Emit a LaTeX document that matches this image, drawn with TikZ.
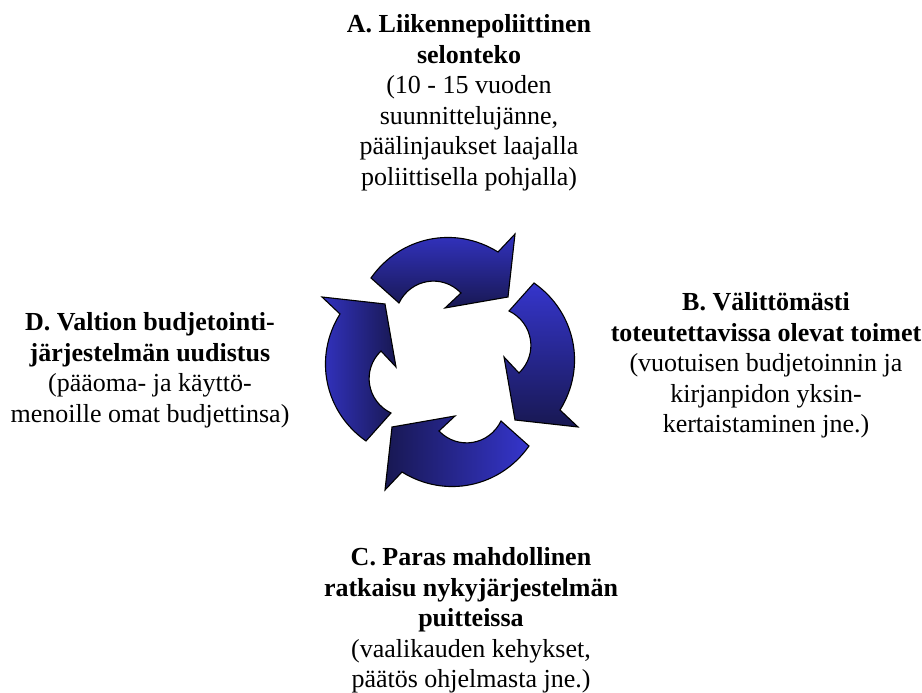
\documentclass[tikz,border=0pt]{standalone}
\usepackage{fontspec}
\setmainfont{LiberationSerif}[
  Extension=.ttf,
  UprightFont=*-Regular,
  BoldFont=*-Bold,
  ItalicFont=*-Italic,
  BoldItalicFont=*-BoldItalic]
\usetikzlibrary{calc}

\definecolor{arrowlight}{RGB}{53,53,204}
\definecolor{arrowdark}{RGB}{24,24,82}

\tikzset{
  cyclearrow/.style={draw=black, line width=1.1pt, line join=miter},
  phase/.style={inner sep=0pt, anchor=base, font=\fontsize{26}{30.5}\selectfont}
}

\newcommand{\phasetext}[1]{\begin{tabular}[t]{@{}c@{}}#1\end{tabular}}

\begin{document}
\begin{tikzpicture}[x=1pt,y=1pt]
  \useasboundingbox (0,0) rectangle (922,693);

  % four curved arrows turning clockwise round the centre
  \begin{scope}[shift={(450,331)}]
    % upper arrow
    \shade[cyclearrow, top color=arrowlight, bottom color=arrowdark]
      (-79,84) to[out=55,in=148] (48,110) -- (65,128) -- (58,65)
      -- (-5,54) -- (11,69) to[out=134,in=64,looseness=1.1] (-51,59) -- cycle;
    % right arrow
    \shade[cyclearrow, top color=arrowlight, bottom color=arrowdark]
      (84,79) to[out=-35,in=58] (110,-48) -- (128,-65) -- (65,-58)
      -- (54,5) -- (69,-11) to[out=44,in=-26,looseness=1.1] (59,51) -- cycle;
    % lower arrow
    \shade[cyclearrow, left color=arrowdark, right color=arrowlight]
      (79,-84) to[out=235,in=328] (-48,-110) -- (-65,-128) -- (-58,-65)
      -- (5,-54) -- (-11,-69) to[out=314,in=244,looseness=1.1] (51,-59) -- cycle;
    % left arrow
    \shade[cyclearrow, left color=arrowlight, right color=arrowdark]
      (-84,-79) to[out=145,in=238] (-110,48) -- (-128,65) -- (-65,58)
      -- (-54,-5) -- (-69,11) to[out=224,in=154,looseness=1.1] (-59,-51) -- cycle;
  \end{scope}

  % the four phases
  \node[phase] (A) at (469,660) {\phasetext{%
    \textbf{A. Liikennepoliittinen}\\
    \textbf{selonteko}\\
    (10 - 15 vuoden\\
    suunnittelujänne,\\
    päälinjaukset laajalla\\
    poliittisella pohjalla)}};

  \node[phase] (B) at (766,382) {\phasetext{%
    \textbf{B. Välittömästi}\\
    \textbf{toteutettavissa olevat toimet}\\
    (vuotuisen budjetoinnin ja\\
    kirjanpidon yksin-\\
    kertaistaminen jne.)}};

  \node[phase] (C) at (471,127) {\phasetext{%
    \textbf{C. Paras mahdollinen}\\
    \textbf{ratkaisu nykyjärjestelmän}\\
    \textbf{puitteissa}\\
    (vaalikauden kehykset,\\
    päätös ohjelmasta jne.)}};

  \node[phase] (D) at (150,362) {\phasetext{%
    \textbf{D. Valtion budjetointi-}\\
    \textbf{järjestelmän uudistus}\\
    (pääoma- ja käyttö-\\
    menoille omat budjettinsa)}};
\end{tikzpicture}
\end{document}
